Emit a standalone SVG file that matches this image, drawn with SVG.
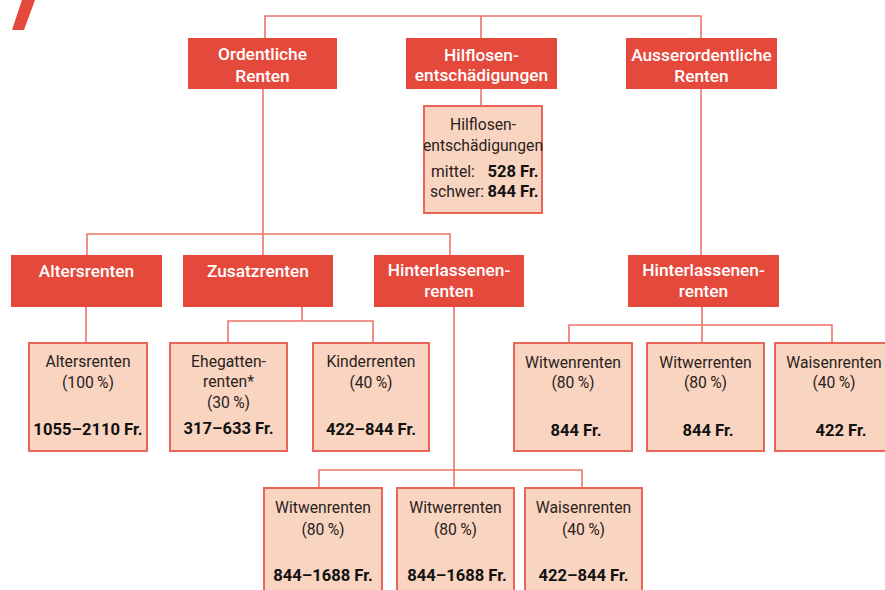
<svg xmlns="http://www.w3.org/2000/svg" width="885" height="590" viewBox="0 0 885 590">
<style>
.h{fill:#E5493C}
.d{fill:#F9D5C1;stroke:#EA6459;stroke-width:2}
.ht{font-family:Roboto,"Liberation Sans",sans-serif;font-size:17.3px;font-weight:500;fill:#fff;text-anchor:middle}
.dt{font-family:Roboto,"Liberation Sans",sans-serif;font-size:15.7px;fill:#2a2220;text-anchor:middle}
.b{font-weight:bold;fill:#111;font-size:16.6px}
.c{fill:none;stroke:#EE7468;stroke-width:1.6}
</style>
<rect width="885" height="590" fill="#fff"/>
<polygon points="22,0 35,0 24,30 12,30" fill="#E5493C"/>
<g id="connectors" class="c">
<path d="M265,38 V16 H701 V38"/>
<path d="M481,16 V38 M481,89 V106"/>
<path d="M263,89 V234 M87,255 V234 H450 V255 M263,234 V255"/>
<path d="M86,307 V343"/>
<path d="M302,307 V321 M228,343 V321 H373 V343"/>
<path d="M454,307 V488 M319,488 V470 H582 V488"/>
<path d="M701,89 V255 M702,307 V343 M569,343 V325 H832 V343"/>
</g>
<g id="n-ordentliche"><rect class="h" x="188" y="38" width="149" height="51"/><text class="ht" x="262.5" y="60">Ordentliche</text><text class="ht" x="262.5" y="82">Renten</text></g>
<g id="n-hilflosen"><rect class="h" x="406" y="38" width="151" height="51"/><text class="ht" x="481.5" y="61">Hilflosen-</text><text class="ht" x="481.5" y="81">entschädigungen</text></g>
<g id="n-ausser"><rect class="h" x="626" y="38" width="151" height="51"/><text class="ht" x="701.5" y="61">Ausserordentliche</text><text class="ht" x="701.5" y="82">Renten</text></g>
<g id="n-hilflosen-detail"><rect class="d" x="424" y="106" width="118" height="107"/><text class="dt" x="483" y="130">Hilflosen-</text><text class="dt" x="483" y="151">entschädigungen</text><text class="dt" x="453" y="177">mittel:</text><text class="dt b" x="513" y="177">528 Fr.</text><text class="dt" x="457" y="197">schwer:</text><text class="dt b" x="513" y="197">844 Fr.</text></g>
<g id="n-alters"><rect class="h" x="11" y="255" width="151" height="52"/><text class="ht" x="86.5" y="277">Altersrenten</text></g>
<g id="n-zusatz"><rect class="h" x="183" y="255" width="150" height="52"/><text class="ht" x="258" y="277">Zusatzrenten</text></g>
<g id="n-hinter1"><rect class="h" x="374" y="255" width="150" height="52"/><text class="ht" x="449" y="276">Hinterlassenen-</text><text class="ht" x="449" y="297">renten</text></g>
<g id="n-hinter2"><rect class="h" x="628" y="255" width="151" height="52"/><text class="ht" x="703.5" y="276">Hinterlassenen-</text><text class="ht" x="703.5" y="297">renten</text></g>
<g id="n-alters-d"><rect class="d" x="29" y="343" width="118" height="108"/><text class="dt" x="88" y="367">Altersrenten</text><text class="dt" x="88" y="388">(100&#8201;%)</text><text class="dt b" x="88" y="435">1055–2110 Fr.</text></g>
<g id="n-ehegatten"><rect class="d" x="170" y="343" width="117" height="108"/><text class="dt" x="228.5" y="367">Ehegatten-</text><text class="dt" x="228.5" y="387">renten*</text><text class="dt" x="228.5" y="408">(30&#8201;%)</text><text class="dt b" x="228.5" y="434">317–633 Fr.</text></g>
<g id="n-kinder"><rect class="d" x="313" y="343" width="116" height="108"/><text class="dt" x="371" y="367">Kinderrenten</text><text class="dt" x="371" y="388">(40&#8201;%)</text><text class="dt b" x="371" y="435">422–844 Fr.</text></g>
<g id="n-witwen2"><rect class="d" x="514" y="343" width="118" height="108"/><text class="dt" x="573" y="368">Witwenrenten</text><text class="dt" x="573" y="388">(80&#8201;%)</text><text class="dt b" x="576" y="436">844 Fr.</text></g>
<g id="n-witwer2"><rect class="d" x="647" y="343" width="117" height="108"/><text class="dt" x="705.5" y="368">Witwerrenten</text><text class="dt" x="705.5" y="388">(80&#8201;%)</text><text class="dt b" x="708" y="436">844 Fr.</text></g>
<g id="n-waisen2"><rect class="d" x="775" y="343" width="118" height="108"/><text class="dt" x="834" y="368">Waisenrenten</text><text class="dt" x="834" y="388">(40&#8201;%)</text><text class="dt b" x="841" y="436">422 Fr.</text></g>
<g id="n-witwen1"><rect class="d" x="264" y="488" width="118" height="110"/><text class="dt" x="323" y="513">Witwenrenten</text><text class="dt" x="323" y="535">(80&#8201;%)</text><text class="dt b" x="323" y="581">844–1688 Fr.</text></g>
<g id="n-witwer1"><rect class="d" x="397" y="488" width="117" height="110"/><text class="dt" x="455.5" y="513">Witwerrenten</text><text class="dt" x="455.5" y="535">(80&#8201;%)</text><text class="dt b" x="457" y="581">844–1688 Fr.</text></g>
<g id="n-waisen1"><rect class="d" x="525" y="488" width="117" height="110"/><text class="dt" x="583.5" y="513">Waisenrenten</text><text class="dt" x="583.5" y="535">(40&#8201;%)</text><text class="dt b" x="583.5" y="581">422–844 Fr.</text></g>
</svg>
